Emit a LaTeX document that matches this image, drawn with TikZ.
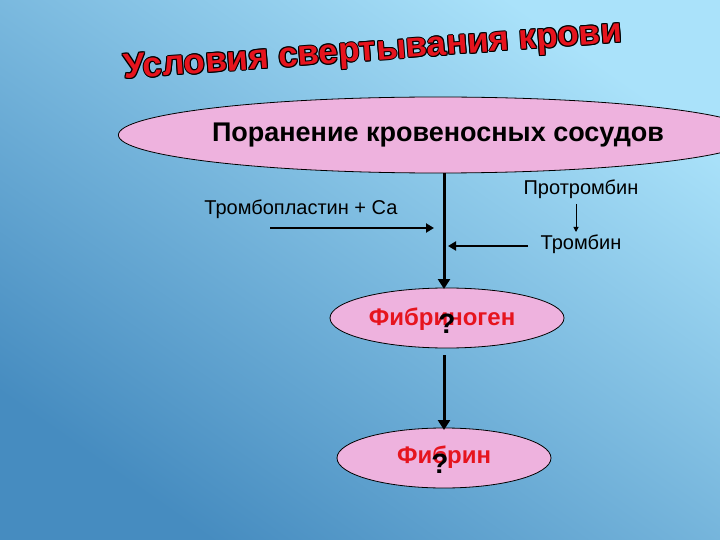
\documentclass[tikz,border=0pt]{standalone}
\usepackage{fontspec}
\setmainfont{Liberation Sans}
\usetikzlibrary{arrows.meta,shapes.geometric}
\definecolor{pinkfill}{RGB}{238,178,222}
\definecolor{bgtop}{RGB}{170,226,250}
\definecolor{bgbot}{RGB}{70,140,192}
\definecolor{titlered}{RGB}{230,20,30}
\tikzset{
  oval/.style={ellipse, draw=black, line width=0.8pt, fill=pinkfill, inner sep=0pt},
  thick arrow/.style={line width=3pt, -{Triangle[length=10pt,width=12pt]}},
  mid arrow/.style={line width=2.6pt, -{Triangle[length=8pt,width=9pt]}},
  thin arrow/.style={line width=1pt, -{Triangle[length=5pt,width=5pt]}},
  lbl/.style={font=\fontsize{20}{22}\selectfont, text=black},
  redlbl/.style={font=\bfseries\fontsize{24}{26}\selectfont, text=titlered},
  qm/.style={font=\bfseries\fontsize{28}{30}\selectfont, text=black},
  titlefont/.style={font=\bfseries\fontsize{35}{38}\selectfont},
}
\begin{document}
\begin{tikzpicture}[x=1pt,y=-1pt]
\shade[shading=axis, top color=bgtop, bottom color=bgbot, shading angle=-35] (0,0) rectangle (720,540);
\useasboundingbox (0,0) rectangle (720,540);
% title
\foreach \dx/\dy in {-1/0,1/0,0/-1,0/1,0.8/0.8,-0.8/-0.8,0.8/-0.8,-0.8/0.8}
  \node[rotate=4.2, text=black, titlefont] at (373+\dx,52+\dy) {Условия свертывания крови};
\node (title) [rotate=4.2, text=titlered, titlefont] at (373,52) {Условия свертывания крови};
% nodes
\node (wound) [oval, minimum width=516pt, minimum height=76pt, font=\bfseries\fontsize{27}{29}\selectfont] at (438,135) {Поранение кровеносных сосудов};
\node (fgn) [oval, minimum width=234pt, minimum height=60pt] at (447,318) {};
\node (fgntext) [redlbl] at (442,319) {Фибриноген};
\node (q1) [qm] at (447,324) {?};
\node (fbn) [oval, minimum width=214pt, minimum height=60pt] at (444,458) {};
\node (fbntext) [redlbl] at (444,457) {Фибрин};
\node (q2) [qm] at (440,464) {?};
\node (tp) [lbl] at (301,209) {Тромбопластин + Са};
\node (pt) [lbl] at (581,189) {Протромбин};
\node (tb) [lbl] at (581,244) {Тромбин};
\coordinate (top) at (444,173);
\coordinate (fgntop) at (444,289);
\coordinate (tpa) at (270,228);
\coordinate (tpb) at (434,228);
\coordinate (tba) at (528,246);
\coordinate (tbb) at (448,246);
\coordinate (pta) at (576,204);
\coordinate (ptb) at (576,232);
\coordinate (m1) at (444,355);
\coordinate (fbntop) at (444,430);
% connectors
\draw[thick arrow] (top) -- (fgntop);
\draw[mid arrow] (tpa) -- (tpb);
\draw[mid arrow] (tba) -- (tbb);
\draw[thin arrow] (pta) -- (ptb);
\draw[thick arrow] (m1) -- (fbntop);
\end{tikzpicture}
\end{document}
